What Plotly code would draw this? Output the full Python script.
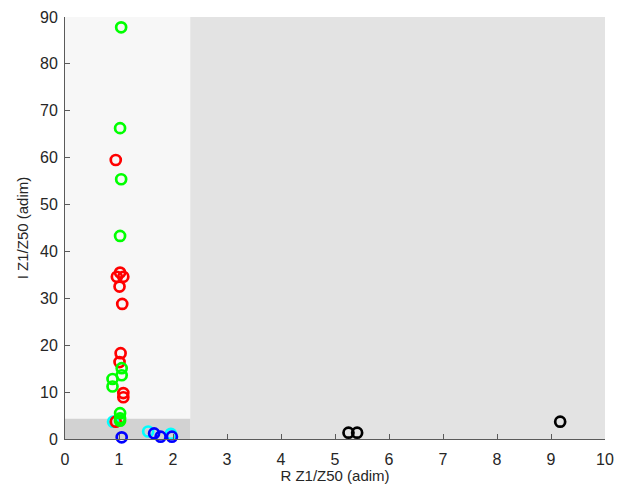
import plotly.graph_objects as go

# Normalised impedance points: real part (R) and imaginary part (I) of Z1/Z50
green_r = [1.04, 1.02, 1.04, 1.02, 1.05, 1.05, 0.88, 0.88, 1.02, 1.02, 1.02]
green_i = [87.8, 66.3, 55.4, 43.3, 15.1, 13.6, 12.8, 11.2, 5.5, 4.4, 3.9]

red_r = [0.94, 0.96, 1.02, 1.08, 1.01, 1.06, 1.03, 1.01, 1.08, 1.08, 0.94]
red_i = [59.5, 34.6, 35.5, 34.6, 32.5, 28.8, 18.3, 16.4, 9.8, 8.9, 3.7]

cyan_r = [0.89, 1.54, 1.96]
cyan_i = [3.7, 1.6, 1.1]

blue_r = [1.05, 1.65, 1.77, 1.98]
blue_i = [0.35, 1.2, 0.5, 0.5]

black_r = [5.25, 5.41, 9.17]
black_i = [1.35, 1.35, 3.7]

# Shaded zones on the R-I plane
zone_r_max = 2.32
zone_low_i_max = 4.3

x_ticks = list(range(0, 11))
y_ticks = list(range(0, 91, 10))

fig = go.Figure()

series = [
    (cyan_r, cyan_i, "#00ffff"),
    (red_r, red_i, "#ff0000"),
    (green_r, green_i, "#00ff00"),
    (blue_r, blue_i, "#0000ff"),
    (black_r, black_i, "#000000"),
]
for xs, ys, col in series:
    fig.add_trace(go.Scatter(
        x=xs, y=ys, mode="markers", cliponaxis=False, showlegend=False,
        marker=dict(symbol="circle-open", size=10, color=col,
                    line=dict(width=2.7, color=col)),
    ))

fig.add_shape(type="rect", xref="x", yref="y", x0=0, x1=zone_r_max, y0=0, y1=90,
              fillcolor="#f7f7f7", line=dict(width=0), layer="below")
fig.add_shape(type="rect", xref="x", yref="y", x0=0, x1=zone_r_max, y0=0, y1=zone_low_i_max,
              fillcolor="#d2d2d2", line=dict(width=0), layer="below")

axis_common = dict(
    showgrid=False, zeroline=False, showline=True, linecolor="#5a5a5a", linewidth=1,
    ticks="inside", ticklen=5, tickcolor="#5a5a5a", mirror=False, automargin=False,
    tickfont=dict(family="Liberation Sans, Arial, sans-serif", size=16, color="#262626"),
    title_font=dict(family="Liberation Sans, Arial, sans-serif", size=15, color="#262626"),
)

fig.update_xaxes(range=[0, 10], tickvals=x_ticks, title_text="R Z1/Z50 (adim)",
                 ticklabelstandoff=6, title_standoff=0, **axis_common)
fig.update_yaxes(range=[0, 90], tickvals=y_ticks, title_text="I Z1/Z50 (adim)",
                 ticklabelstandoff=3, title_standoff=7, **axis_common)

fig.update_layout(
    width=623, height=484,
    margin=dict(l=65, r=18, t=17, b=45),
    paper_bgcolor="white",
    plot_bgcolor="#e3e3e3",
)

fig.write_html("out.html")
